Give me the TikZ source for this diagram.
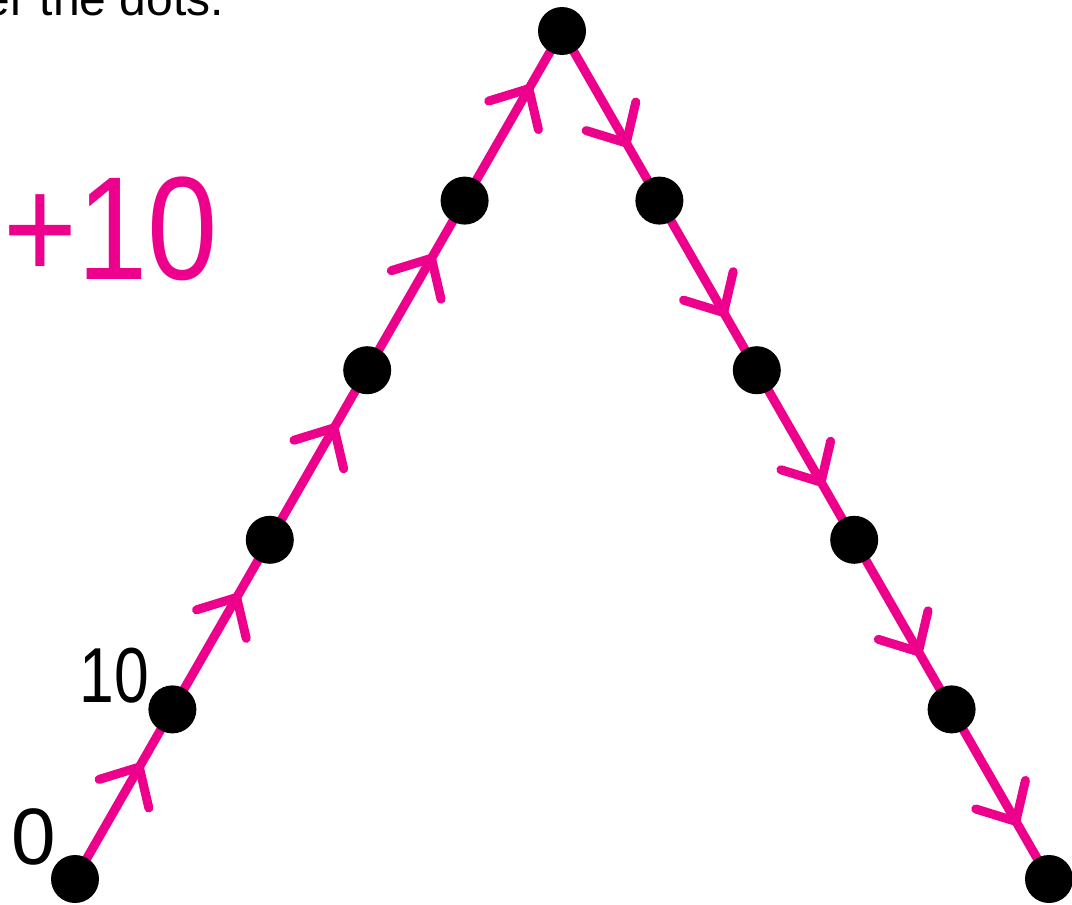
\documentclass[tikz,border=0pt]{standalone}
\usepackage{fontspec}
\setmainfont{Liberation Sans}
\usetikzlibrary{calc}
\definecolor{hotpink}{RGB}{236,0,140}
\begin{document}
\begin{tikzpicture}[x=1pt,y=-1pt,
  dot/.style={circle,fill=black,inner sep=0pt,outer sep=0pt,minimum size=48pt},
  track/.style={draw=hotpink,line width=9pt},
  barb/.style={draw=hotpink,line width=9pt,line cap=round,line join=round},
  lbl/.style={inner sep=0pt,outer sep=0pt}]
\useasboundingbox (0,0) rectangle (1072,905);
% connectors first, dots on top
\coordinate (p0) at (75,879);
\coordinate (p1) at (172.4,709.4);
\coordinate (p2) at (269.8,539.8);
\coordinate (p3) at (367.2,370.2);
\coordinate (p4) at (464.6,200.6);
\coordinate (p5) at (562,31);
\coordinate (p6) at (659.4,200.6);
\coordinate (p7) at (756.8,370.2);
\coordinate (p8) at (854.2,539.8);
\coordinate (p9) at (951.6,709.4);
\coordinate (p10) at (1049,879);
\foreach \a/\b in {0/1,1/2,2/3,3/4,4/5,5/6,6/7,7/8,8/9,9/10}{
  \draw[track] (p\a) -- (p\b);
  \coordinate (t\a) at ($(p\a)!0.66!(p\b)$);
  \draw[barb] ($(t\a)!42pt!43:(p\a)$) -- (t\a) -- ($(t\a)!42pt!-43:(p\a)$);
}
\foreach \i in {0,...,10}{
  \node[dot] (d\i) at (p\i) {};
}
% texts
\node[lbl,anchor=base east,font=\fontsize{48}{48}\selectfont] (title) at (224,15) {er the dots.};
\node[lbl,text=hotpink,xscale=0.86,font=\fontsize{147}{147}\selectfont] (plus) at (111,228.5) {+10};
\node[lbl,xscale=0.8,font=\fontsize{78}{78}\selectfont] (ten) at (114.5,676) {10};
\node[lbl,font=\fontsize{80}{80}\selectfont] (zero) at (33.5,836.5) {0};
\end{tikzpicture}
\end{document}
